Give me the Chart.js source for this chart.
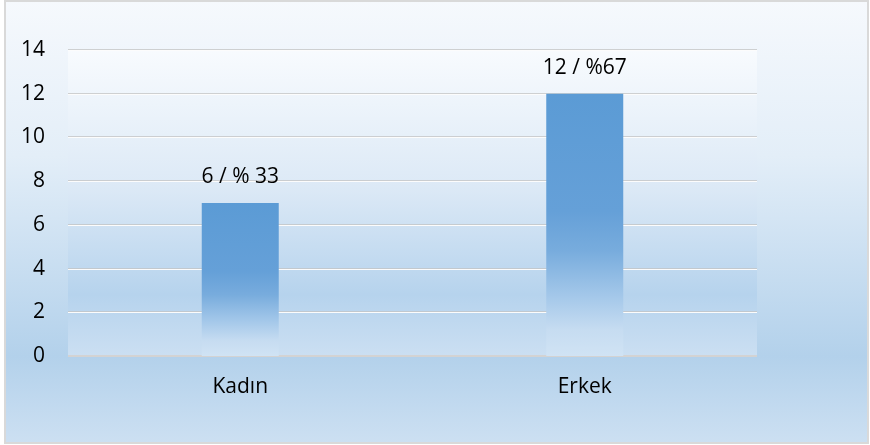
<!DOCTYPE html>
<html>
<head>
<meta charset="utf-8">
<script src="https://cdn.jsdelivr.net/npm/chart.js@4.4.1/dist/chart.umd.min.js"></script>
<style>
  html, body { margin: 0; padding: 0; background: #ffffff; }
  #wrap { width: 870px; height: 445px; position: relative; }
</style>
</head>
<body>
<div id="wrap"><canvas id="c" width="870" height="445"></canvas></div>
<script>
const categories = ['Kadın', 'Erkek'];
const values = [7, 12];
const valueLabels = ['6 / % 33', '12 / %67'];
const yMin = 0;
const yMax = 14;
const yStep = 2;

const FONT = '"Open Sans", "Noto Sans", sans-serif';
const FONT_SIZE = 21;

function barGradient(context) {
  const chart = context.chart;
  const area = chart.chartArea;
  if (!area || context.type !== 'data') return '#5b9bd5';
  const y = chart.scales.y;
  const top = y.getPixelForValue(context.raw);
  const bottom = y.getPixelForValue(0);
  const g = chart.ctx.createLinearGradient(0, top, 0, bottom);
  g.addColorStop(0, '#5b9bd5');
  g.addColorStop(0.45, '#65a0d8');
  g.addColorStop(0.6, '#78acdd');
  g.addColorStop(0.78, '#a6c9ea');
  g.addColorStop(0.9, '#c6dcf1');
  g.addColorStop(1, '#d0e3f4');
  return g;
}

const backgroundPlugin = {
  id: 'bgPlugin',
  beforeDraw(chart) {
    const ctx = chart.ctx;
    const W = chart.width, H = chart.height;
    ctx.save();
    const og = ctx.createLinearGradient(0, 0, 0, H);
    og.addColorStop(0, '#f6f9fd');
    og.addColorStop(0.35, '#e3eef8');
    og.addColorStop(0.8, '#b3d1eb');
    og.addColorStop(1, '#cde0f2');
    ctx.fillStyle = og;
    ctx.fillRect(5, 1, W - 7, H - 3);
    ctx.strokeStyle = '#d9d9d9';
    ctx.lineWidth = 2;
    ctx.strokeRect(5, 1, W - 7, H - 3);
    const a = chart.chartArea;
    const pg = ctx.createLinearGradient(0, a.top, 0, a.bottom);
    pg.addColorStop(0, '#f8fbfe');
    pg.addColorStop(0.45, '#dce9f6');
    pg.addColorStop(0.8, '#b6d3ed');
    pg.addColorStop(1, '#cbdff2');
    ctx.fillStyle = pg;
    ctx.fillRect(a.left, a.top, a.right - a.left, a.bottom - a.top);
    ctx.restore();
  },
  beforeDatasetsDraw(chart) {
    const ctx = chart.ctx;
    const a = chart.chartArea;
    const y = chart.scales.y;
    ctx.save();
    y.ticks.forEach(t => {
      const py = Math.round(y.getPixelForValue(t.value));
      if (t.value === 0) {
        ctx.fillStyle = '#d3d3d3';
        ctx.fillRect(a.left, py - 1, a.right - a.left, 2);
      } else {
        ctx.fillStyle = 'rgba(195,195,195,0.75)';
        ctx.fillRect(a.left, py - 1, a.right - a.left, 1);
        ctx.fillStyle = 'rgba(252,252,252,1)';
        ctx.fillRect(a.left, py, a.right - a.left, 1);
      }
    });
    ctx.restore();
  },
  afterDatasetsDraw(chart) {
    const ctx = chart.ctx;
    const meta = chart.getDatasetMeta(0);
    ctx.save();
    ctx.font = FONT_SIZE + 'px ' + FONT;
    ctx.fillStyle = '#000000';
    ctx.textAlign = 'center';
    ctx.textBaseline = 'middle';
    meta.data.forEach((bar, i) => {
      ctx.fillText(valueLabels[i], bar.x, bar.y - 26);
    });
    ctx.restore();
  }
};

new Chart(document.getElementById('c'), {
  type: 'bar',
  data: {
    labels: categories,
    datasets: [{
      data: values,
      backgroundColor: barGradient,
      borderWidth: 0,
      categoryPercentage: 1,
      barPercentage: 0.2235
    }]
  },
  options: {
    responsive: false,
    animation: false,
    layout: { padding: { left: 0, right: 113, top: 50, bottom: 0 } },
    plugins: { legend: { display: false }, tooltip: { enabled: false } },
    scales: {
      x: {
        grid: { display: false, drawTicks: false },
        border: { display: false },
        ticks: { color: '#000000', font: { family: FONT, size: FONT_SIZE }, padding: 18 },
        afterFit(scale) { scale.height = 89; }
      },
      y: {
        min: yMin,
        max: yMax,
        grid: { display: false, drawTicks: false },
        border: { display: false },
        ticks: { stepSize: yStep, color: '#000000', font: { family: FONT, size: FONT_SIZE }, padding: 23 },
        afterFit(scale) { scale.width = 68; }
      }
    }
  },
  plugins: [backgroundPlugin]
});
</script>
</body>
</html>
